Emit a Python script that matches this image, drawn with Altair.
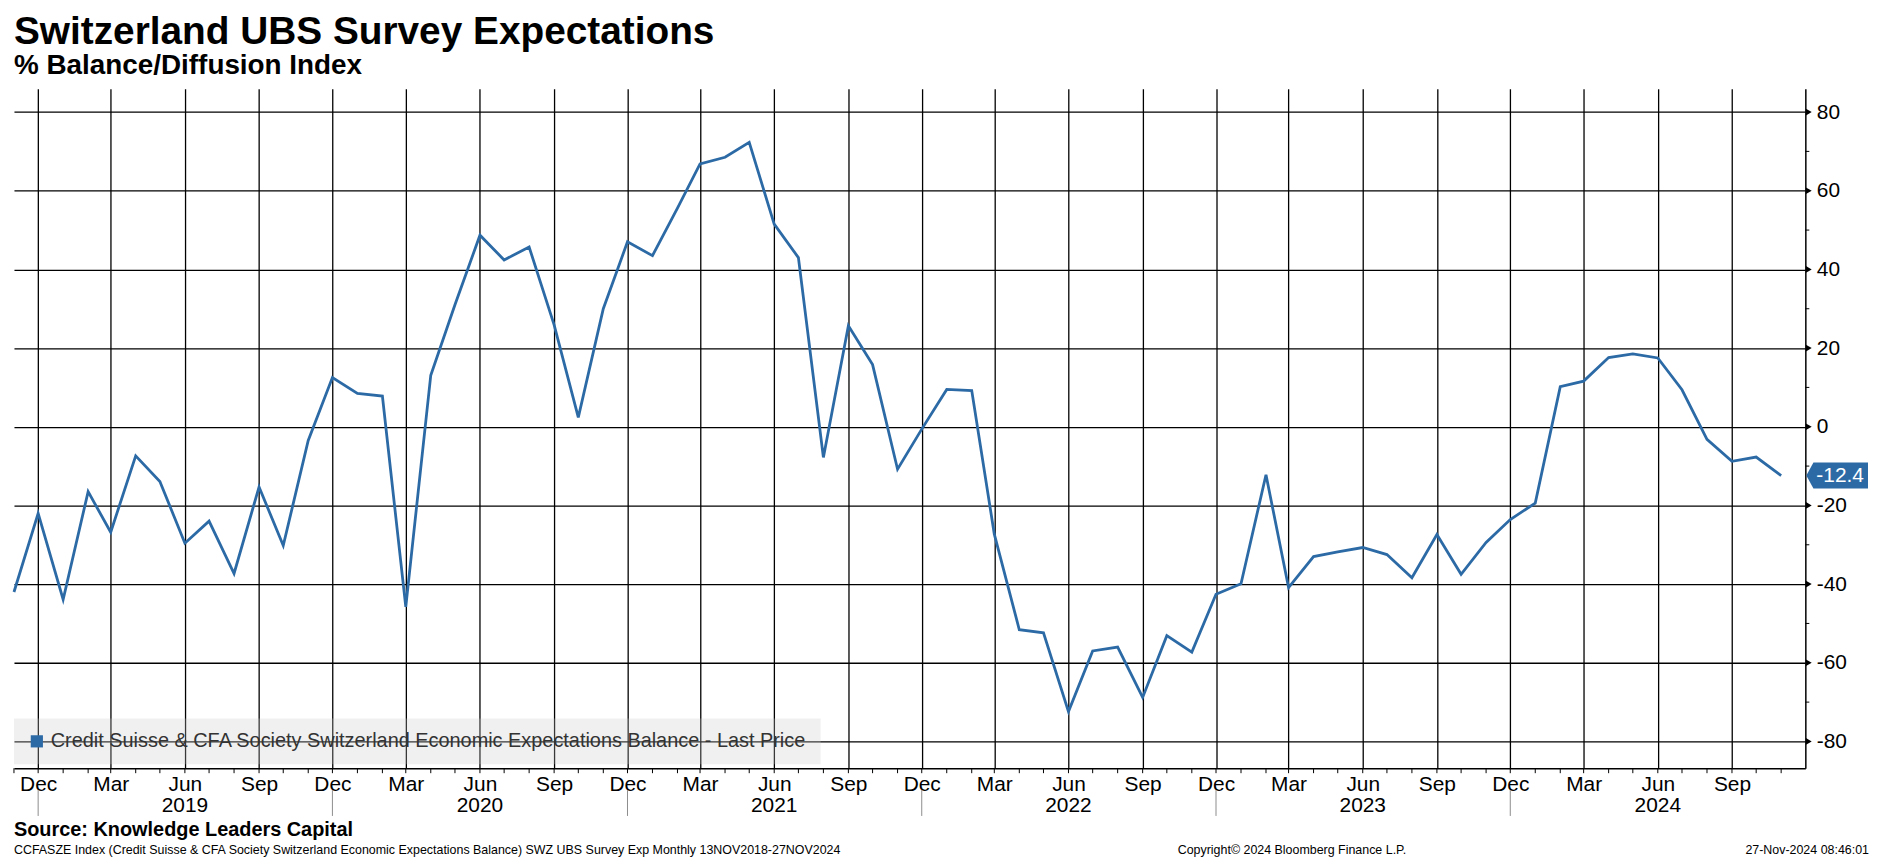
import altair as alt
import pandas as pd

FONT = "Liberation Sans, Arial, Helvetica, sans-serif"
BLUE = "#2c6aa6"
W, H = 1801, 683

TITLE = "Switzerland UBS Survey Expectations"
SUBTITLE = "% Balance/Diffusion Index"
SERIES = "Credit Suisse & CFA Society Switzerland Economic Expectations Balance - Last Price"
SOURCE = "Source: Knowledge Leaders Capital"
FOOTNOTE = ("CCFASZE Index (Credit Suisse & CFA Society Switzerland Economic Expectations Balance) "
            "SWZ UBS Survey Exp  Monthly 13NOV2018-27NOV2024")
COPYRIGHT = "Copyright\u00a9 2024 Bloomberg Finance L.P."
STAMP = "27-Nov-2024 08:46:01"

# monthly observations, Nov 2018 .. Nov 2024
months = pd.date_range("2018-11-01", periods=73, freq="MS").strftime("%Y-%m-%d").tolist()
values = [
    -42.0, -22.0,
    -43.9, -16.5, -26.8, -7.4, -13.9, -29.6, -24.0, -37.3, -15.3, -30.2, -3.5, 12.5,
    8.5, 7.8, -45.8, 13.1, 31.0, 48.7, 42.4, 45.7, 25.9, 2.4, 30.0, 47.0,
    43.5, 55.6, 66.8, 68.5, 72.3, 51.5, 43.0, -7.8, 25.7, 15.8, -10.8, -0.6,
    9.5, 9.2, -27.3, -51.6, -52.4, -72.4, -57.0, -56.0, -68.8, -53.1, -57.3, -42.6,
    -39.9, -12.2, -40.9, -33.0, -31.8, -30.7, -32.5, -38.4, -27.4, -37.5, -29.4, -23.6,
    -19.4, 10.2, 11.6, 17.6, 18.5, 17.5, 9.4, -3.2, -8.8, -7.7, -12.4,
]

y_major = [-80, -60, -40, -20, 0, 20, 40, 60, 80]
y_minor = [-70, -50, -30, -10, 10, 30, 50, 70]
quarter_months = months[1::3]
month_names = ["Jan", "Feb", "Mar", "Apr", "May", "Jun", "Jul", "Aug", "Sep", "Oct", "Nov", "Dec"]
year_labels = ["2019", "2020", "2021", "2022", "2023", "2024"]
year_centers = ["2019-06-01", "2020-06-01", "2021-06-01", "2022-06-01", "2023-06-01", "2024-06-01"]
year_breaks = ["2018-12-01", "2019-12-01", "2020-12-01", "2021-12-01", "2022-12-01", "2023-12-01"]


def dt(s):
    return alt.DateTime(year=int(s[:4]), month=int(s[5:7]), date=int(s[8:10]), utc=True)


xscale = alt.Scale(type="utc", domain=[dt("2018-11-01"), dt("2024-12-01")])
yscale = alt.Scale(domain=[-86.8, 85.9], nice=False, zero=False)

df = pd.DataFrame({"date": months, "value": values, "series": SERIES})
last = pd.DataFrame({"date": [months[-1]], "value": [values[-1]], "label": [f"{values[-1]:.1f}"]})

names_js = "[" + ",".join(f"'{m}'" for m in month_names) + "]"
x_axis = alt.Axis(
    values=[dt(m) for m in quarter_months],
    labelExpr=f"{names_js}[utcmonth(datum.value)]",
    grid=True, gridColor="black", gridWidth=1.3, ticks=False, labelPadding=5,
    labelFont=FONT, labelFontSize=21, labelColor="black", labelAngle=0,
    labelOverlap=False, labelFlush=False, domain=True, domainColor="black",
    domainWidth=1.5, title=None,
)
y_axis = alt.Axis(
    orient="right", values=y_major, grid=True, gridColor="black", gridWidth=1.3,
    ticks=False, labelPadding=11, labelFont=FONT, labelFontSize=21, labelColor="black",
    labelAlign="left", labelBaseline="middle", labelExpr="'' + datum.value",
    domain=True, domainColor="black", domainWidth=1.5, title=None,
)

X = alt.X("date:T", scale=xscale, axis=x_axis)

line = alt.Chart(df).mark_line(strokeWidth=2.8).encode(
    x=X,
    y=alt.Y("value:Q", scale=yscale, axis=y_axis),
    color=alt.Color(
        "series:N", scale=alt.Scale(range=[BLUE]),
        legend=alt.Legend(
            title=None, orient="none", legendX=0, legendY=H - 50,
            symbolType="square", symbolSize=150, symbolFillColor=BLUE,
            symbolStrokeColor=BLUE, symbolStrokeWidth=0, labelFont=FONT,
            labelFontSize=20, labelColor="#333333", labelLimit=1500,
            fillColor="rgba(200,200,200,0.28)", padding=13, labelOffset=4,
        ),
    ),
)

month_ticks = alt.Chart(df).mark_rule(color="black", strokeWidth=1).encode(
    x=X, y=alt.value(H), y2=alt.value(H + 5),
)

breaks = alt.Chart(pd.DataFrame({"date": year_breaks})).mark_rule(
    color="#8c8c8c", strokeWidth=1
).encode(
    x=X, y=alt.value(H + 22), y2=alt.value(H + 48),
)

years = alt.Chart(pd.DataFrame({"date": year_centers, "label": year_labels})).mark_text(
    font=FONT, fontSize=21, color="black", baseline="middle", align="center"
).encode(
    x=X, y=alt.value(H + 38), text="label:N",
)

major_marks = alt.Chart(pd.DataFrame({"value": y_major})).mark_point(
    shape="triangle-right", filled=True, size=45, color="black", opacity=1
).encode(
    y=alt.Y("value:Q", scale=yscale, axis=y_axis),
    x=alt.value(W + 3.5),
)

minor_marks = alt.Chart(pd.DataFrame({"value": y_minor})).mark_rule(
    color="black", strokeWidth=1
).encode(
    y=alt.Y("value:Q", scale=yscale, axis=y_axis),
    x=alt.value(W), x2=alt.value(W + 4),
)

TAG = "M-1,0 L-0.77,-0.42 L1,-0.42 L1,0.42 L-0.77,0.42 Z"
tag = alt.Chart(last).mark_point(
    shape=TAG, size=3844, filled=True, color=BLUE, opacity=1, strokeWidth=0
).encode(
    x=alt.value(W + 32),
    y=alt.Y("value:Q", scale=yscale, axis=y_axis),
)
tag_text = alt.Chart(last).mark_text(
    font=FONT, fontSize=21, color="white", align="center", baseline="middle"
).encode(
    x=alt.value(W + 35),
    y=alt.Y("value:Q", scale=yscale, axis=y_axis),
    text="label:N",
)


def label(txt, x, y, size, bold=False, align="left", color="black"):
    return alt.Chart(pd.DataFrame({"t": [txt]})).mark_text(
        font=FONT, fontSize=size, fontWeight="bold" if bold else "normal",
        align=align, baseline="alphabetic", color=color,
    ).encode(x=alt.value(x), y=alt.value(y), text="t:N")


# invisible guard so the title keeps a little room above it
pin = alt.Chart(pd.DataFrame({"t": [""]})).mark_rule(opacity=0).encode(
    x=alt.value(0), x2=alt.value(10), y=alt.value(-79)
)

texts = [
    label(TITLE, 0, -45, 39, bold=True),
    label(SUBTITLE, 0, -15, 28, bold=True),
    label(SOURCE, 0, H + 68, 20, bold=True),
    label(FOOTNOTE, 0, H + 86, 12.5),
    label(COPYRIGHT, 1170, H + 86, 12.5),
    label(STAMP, 1865, H + 86, 12.5, align="right"),
]

chart = alt.layer(
    line, month_ticks, breaks, years, major_marks, minor_marks, tag, tag_text, pin, *texts
).properties(
    width=W, height=H, padding=0, background="white"
).configure_view(stroke=None)

chart.save("out.html", embed_options={"renderer": "svg", "actions": False})
